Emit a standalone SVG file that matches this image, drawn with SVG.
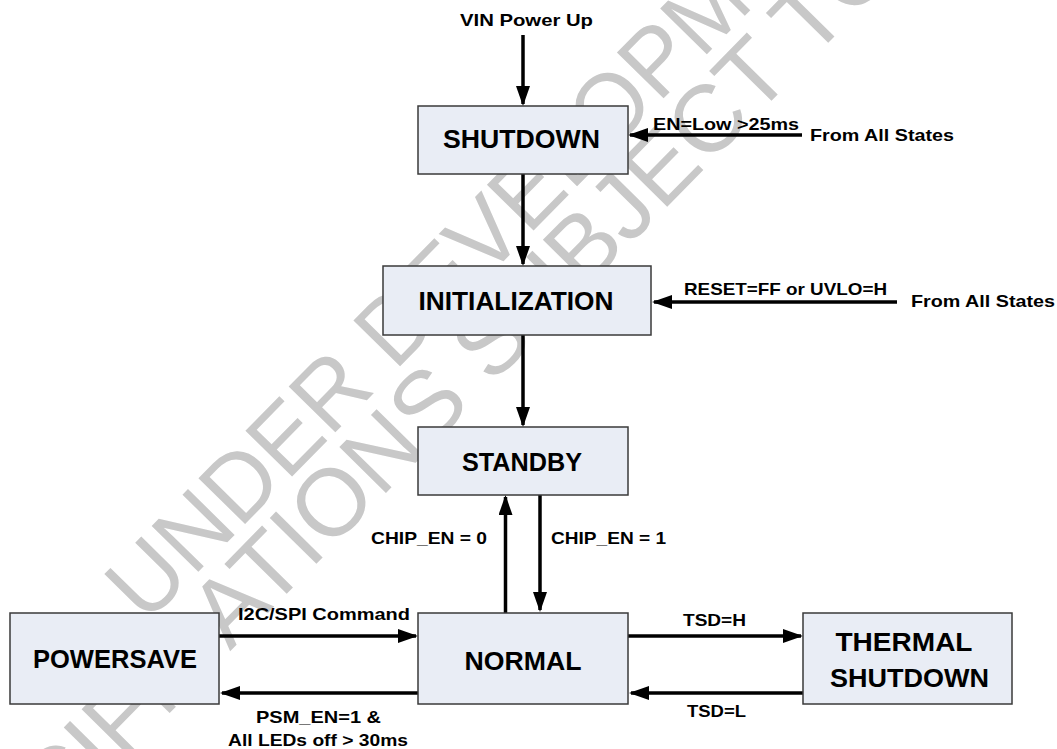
<svg xmlns="http://www.w3.org/2000/svg" width="1057" height="749" viewBox="0 0 1057 749">
<style>
.box{fill:#e9edf5;stroke:#3a3a3a;stroke-width:1.5}
.title{font-family:"Liberation Sans",Arial,sans-serif;font-weight:bold;font-size:25px;fill:#000;text-anchor:middle}
.lbl{font-family:"Liberation Sans",Arial,sans-serif;font-weight:bold;font-size:17px;fill:#000}
.wire{stroke:#000;stroke-width:3.5;fill:none;marker-end:url(#ah)}
.wm{font-family:"Liberation Sans",Arial,sans-serif;font-size:95px;fill:#c8c8c8}
</style>
<defs>
<marker id="ah" markerUnits="userSpaceOnUse" markerWidth="20" markerHeight="14" refX="18" refY="7" orient="auto">
<path d="M0,0 L20,7 L0,14 Z" fill="#000"/>
</marker>
</defs>
<rect width="1057" height="749" fill="#fff"/>
<g id="watermark">
<text class="wm" transform="translate(146,625) rotate(-45.5) scale(0.975,1)">UNDER DEVELOPMENT</text>
<text class="wm" transform="translate(-77,964) rotate(-45.5)">SPECIFICATIONS SUBJECT TO</text>
</g>
<g id="connectors">
<line class="wire" x1="523" y1="35" x2="523" y2="104"/>
<line class="wire" x1="802" y1="135" x2="630" y2="135"/>
<line class="wire" x1="523" y1="174" x2="523" y2="264"/>
<line class="wire" x1="897" y1="302" x2="654" y2="302"/>
<line class="wire" x1="523" y1="335" x2="523" y2="425"/>
<line class="wire" x1="505.5" y1="613" x2="505.5" y2="497"/>
<line class="wire" x1="540" y1="495" x2="540" y2="610"/>
<line class="wire" x1="219" y1="636" x2="416" y2="636"/>
<line class="wire" x1="418" y1="693" x2="222" y2="693"/>
<line class="wire" x1="628" y1="636" x2="801" y2="636"/>
<line class="wire" x1="805" y1="693" x2="631" y2="693"/>
</g>
<g id="labels">
<text class="lbl" x="460" y="26" textLength="133" lengthAdjust="spacingAndGlyphs">VIN Power Up</text>
<text class="lbl" x="653" y="130" textLength="146" lengthAdjust="spacingAndGlyphs">EN=Low &gt;25ms</text>
<text class="lbl" x="810" y="141" textLength="144" lengthAdjust="spacingAndGlyphs">From All States</text>
<text class="lbl" x="684" y="295" textLength="203" lengthAdjust="spacingAndGlyphs">RESET=FF or UVLO=H</text>
<text class="lbl" x="911" y="307" textLength="144" lengthAdjust="spacingAndGlyphs">From All States</text>
<text class="lbl" x="371" y="544" textLength="116" lengthAdjust="spacingAndGlyphs">CHIP_EN = 0</text>
<text class="lbl" x="551" y="544" textLength="115" lengthAdjust="spacingAndGlyphs">CHIP_EN = 1</text>
<text class="lbl" x="238" y="620" textLength="172" lengthAdjust="spacingAndGlyphs">I2C/SPI Command</text>
<text class="lbl" x="256" y="723" textLength="125" lengthAdjust="spacingAndGlyphs">PSM_EN=1 &amp;</text>
<text class="lbl" x="228" y="746" textLength="180" lengthAdjust="spacingAndGlyphs">All LEDs off &gt; 30ms</text>
<text class="lbl" x="683" y="626" textLength="63" lengthAdjust="spacingAndGlyphs">TSD=H</text>
<text class="lbl" x="687" y="717" textLength="59" lengthAdjust="spacingAndGlyphs">TSD=L</text>
</g>
<g id="shutdown">
<rect class="box" x="418" y="106" width="210" height="68"/>
<text class="title" x="521.5" y="148" textLength="157" lengthAdjust="spacingAndGlyphs">SHUTDOWN</text>
</g>
<g id="initialization">
<rect class="box" x="383" y="266" width="268" height="69"/>
<text class="title" x="516" y="310" textLength="195" lengthAdjust="spacingAndGlyphs">INITIALIZATION</text>
</g>
<g id="standby">
<rect class="box" x="418" y="427" width="210" height="68"/>
<text class="title" x="522" y="471" textLength="120" lengthAdjust="spacingAndGlyphs">STANDBY</text>
</g>
<g id="powersave">
<rect class="box" x="10" y="613" width="209" height="91"/>
<text class="title" x="115" y="668" textLength="164" lengthAdjust="spacingAndGlyphs">POWERSAVE</text>
</g>
<g id="normal">
<rect class="box" x="418" y="613" width="210" height="91"/>
<text class="title" x="523" y="670" textLength="117" lengthAdjust="spacingAndGlyphs">NORMAL</text>
</g>
<g id="thermal-shutdown">
<rect class="box" x="803" y="613" width="209" height="91"/>
<text class="title" x="904" y="651" textLength="137" lengthAdjust="spacingAndGlyphs">THERMAL</text>
<text class="title" x="909.5" y="687" textLength="159" lengthAdjust="spacingAndGlyphs">SHUTDOWN</text>
</g>
</svg>
